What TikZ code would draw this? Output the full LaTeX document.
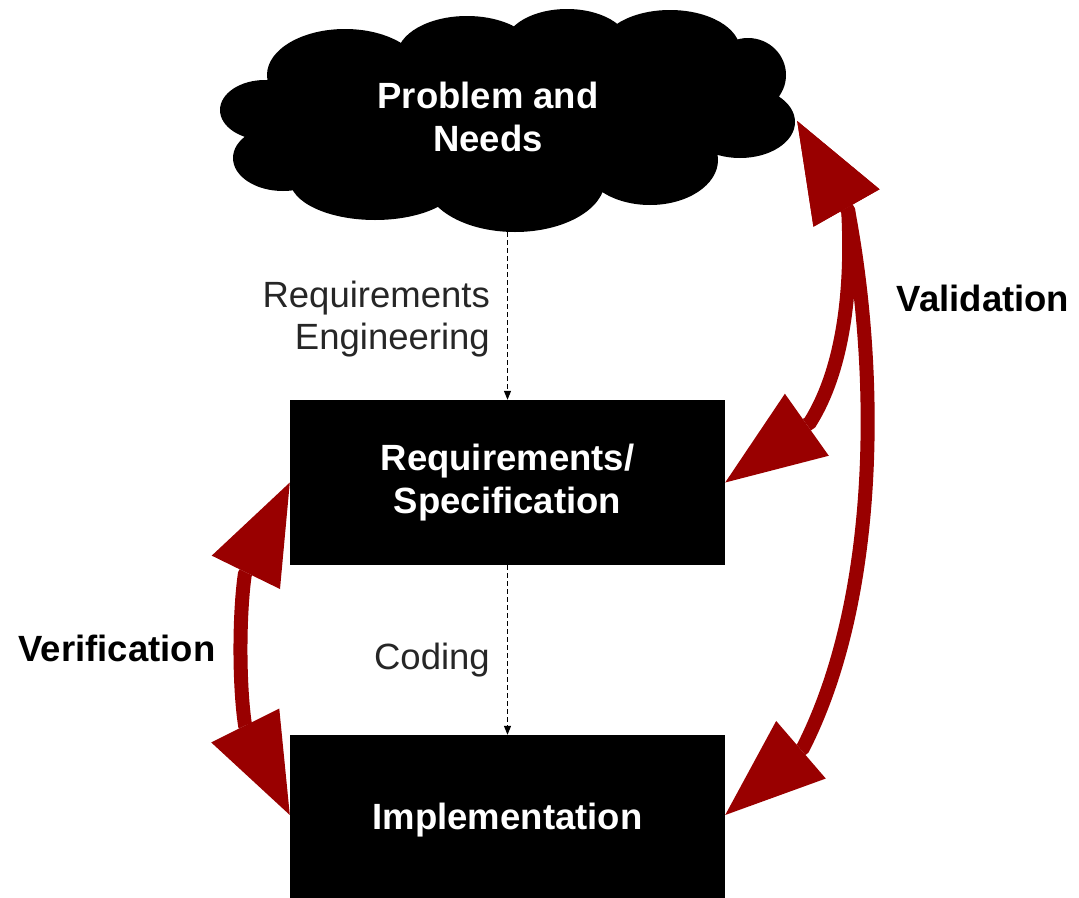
\documentclass[tikz,border=0pt]{standalone}
\usepackage{fontspec}
\setmainfont{Liberation Sans}
\usetikzlibrary{arrows.meta}
\definecolor{valred}{HTML}{990000}
\begin{document}
\begin{tikzpicture}[x=1pt,y=-1pt,
  box/.style={fill=black, minimum width=435pt, inner sep=0pt, text=white,
    font=\bfseries\fontsize{36.5}{42.5}\selectfont, align=center},
  lbl/.style={font=\fontsize{36.5}{42.5}\selectfont, text=black!85, align=right, inner sep=0pt},
  boldlbl/.style={font=\bfseries\fontsize{36.5}{42.5}\selectfont, inner sep=0pt},
  flow/.style={dash pattern=on 5pt off 3pt, line width=1.2pt, -{Triangle[length=9pt,width=7pt]}},
  bighead/.tip={Triangle[length=100pt,width=76pt,line width=0pt]},
  check/.style={draw=valred, line width=14pt, bighead-bighead}
]
\useasboundingbox (0,0) rectangle (1079,897);
% cloud silhouette
\fill[black]
  (505,120) ellipse [x radius=240pt, y radius=75pt]
  (265,110) ellipse [x radius=45pt, y radius=30pt]
  (283,158) ellipse [x radius=50pt, y radius=33pt]
  (345,75)  ellipse [x radius=78pt, y radius=46pt]
  (467,56)  ellipse [x radius=70pt, y radius=40pt]
  (567,45)  ellipse [x radius=62pt, y radius=36pt]
  (670,50)  ellipse [x radius=70pt, y radius=40pt]
  (748,75)  ellipse [x radius=38pt, y radius=37pt]
  (740,122) ellipse [x radius=55pt, y radius=36pt]
  (650,160) ellipse [x radius=68pt, y radius=45pt]
  (515,180) ellipse [x radius=90pt, y radius=52pt]
  (375,180) ellipse [x radius=85pt, y radius=40pt];
\node[minimum width=580pt, minimum height=222pt, inner sep=0pt] (cloud) at (507,121) {};
\node[text=white, font=\bfseries\fontsize{36.5}{42.5}\selectfont, align=center] (pn) at (488,117) {Problem and\\Needs};
% boxes
\node[box, minimum height=165pt] (box1) at (507.5,482.5) {Requirements/\\Specification};
\node[box, minimum height=170pt] (box2) at (507.5,820) {Implementation};
% labels
\node[lbl, anchor=east] (reqeng) at (490,319) {Requirements\\Engineering};
\node[lbl, anchor=east] (coding) at (490,660) {Coding};
\node[boldlbl] (verif) at (117,648) {Verification};
\node[boldlbl] (valid) at (983,298) {Validation};
% flows
\draw[flow] (cloud.south -| box1.north) -- (box1.north);
\draw[flow] (box1.south) -- (box2.north);
% validation
\draw[check] (cloud.east) -- ++(51,90) .. controls (852,280) and (846,365) .. (810,422.5) -- (box1.east);
\draw[check] (cloud.east) -- ++(51,90) .. controls (880,380) and (878,600) .. (803,748) -- ([yshift=5pt]box2.east);
% verification
\draw[check] (box1.west) -- ++(-45,92) .. controls (239,615) and (239,685) .. (245,725) -- ([yshift=5pt]box2.west);
\end{tikzpicture}
\end{document}
